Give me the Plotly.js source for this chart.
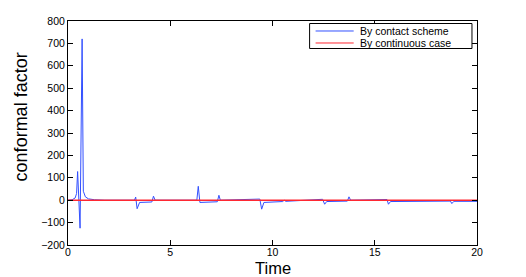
<!DOCTYPE html>
<html>
<head>
<meta charset="utf-8">
<script src="https://cdn.plot.ly/plotly-3.0.1.min.js"></script>
<style>html,body{margin:0;padding:0;background:#fff;}#chart{width:526px;height:277px;}</style>
</head>
<body>
<div id="chart"></div>
<script>
// Time samples for the contact-scheme curve
var timeContact = [0, 0.2, 0.35, 0.42, 0.47, 0.53, 0.59, 0.69, 0.75, 0.85, 1.0, 1.3, 1.8,
  3.25, 3.31, 3.38, 3.5, 4.1, 4.18, 4.26,
  6.3, 6.37, 6.45, 7.3, 7.38, 7.45,
  9.38, 9.47, 9.58, 10.5, 10.57, 10.65,
  12.45, 12.55, 12.65, 13.66, 13.74, 13.82,
  15.6, 15.67, 15.77, 18.7, 18.77, 18.87, 20];
var valuesContact = [0, 2, 10, 30, 128, 20, -125, 720, 40, 15, 6, 2, 0,
  0, 14, -38, -10, -8, 18, 0,
  0, 62, -10, -7, 22, 0,
  5, -40, -10, -6, 0, -5,
  4, -18, -6, -4, 15, 0,
  3, -18, -6, -4, -15, -5, -5];
// Continuous-case curve
var timeContinuous = [0, 5, 10, 15, 20];
var valuesContinuous = [0, 0, 0, 0, 0];
var seriesNames = ['By contact scheme', 'By continuous case'];
var seriesColors = ['rgb(50,80,255)', 'rgb(255,40,50)'];
var xTicks = [0, 5, 10, 15, 20];
var yTicks = [-200, -100, 0, 100, 200, 300, 400, 500, 600, 700, 800];
var xTitle = 'Time';
var yTitle = 'conformal factor';

var FONT = 'Liberation Sans, Arial, Helvetica, sans-serif';
var traces = [
  {x: timeContact, y: valuesContact, type: 'scatter', mode: 'lines', name: seriesNames[0],
   line: {color: seriesColors[0], width: 1}},
  {x: timeContinuous, y: valuesContinuous, type: 'scatter', mode: 'lines', name: seriesNames[1],
   line: {color: seriesColors[1], width: 1.6}}
];
var axisCommon = {
  showgrid: false, zeroline: false, showline: true, linecolor: '#000', linewidth: 1,
  mirror: 'ticks', ticks: 'inside', ticklen: 5, tickcolor: '#000', tickwidth: 1,
  tickfont: {family: FONT, size: 10.5, color: '#000'}
};
// manual compact legend (MATLAB style)
var legBox = {x0: 0.5907, x1: 0.9877, y0: 0.8772, y1: 0.9888};
var legRows = [0.9554, 0.9018];
var shapes = [{type: 'rect', xref: 'paper', yref: 'paper', x0: legBox.x0, x1: legBox.x1, y0: legBox.y0, y1: legBox.y1,
  line: {color: '#000', width: 1}, fillcolor: '#fff', layer: 'above'}];
var annotations = [];
seriesNames.forEach(function(n, i) {
  shapes.push({type: 'line', xref: 'paper', yref: 'paper', x0: 0.6054, x1: 0.6985, y0: legRows[i], y1: legRows[i],
    line: {color: seriesColors[i], width: 1}, layer: 'above'});
  annotations.push({xref: 'paper', yref: 'paper', x: 0.7108, y: legRows[i], xanchor: 'left', yanchor: 'middle',
    text: n, showarrow: false, borderpad: 0, font: {family: FONT, size: 10.5, color: '#000'}});
});
annotations.push({xref: 'paper', yref: 'paper', x: 0.5, y: -0.1049, xanchor: 'center', yanchor: 'middle',
  text: xTitle, showarrow: false, borderpad: 0, font: {family: FONT, size: 16.5, color: '#000'}});
annotations.push({xref: 'paper', yref: 'paper', x: -0.1127, y: 0.5737, xanchor: 'center', yanchor: 'middle',
  text: yTitle, textangle: -90, showarrow: false, borderpad: 0,
  font: {family: FONT, size: 18, color: '#000'}});

var layout = {
  width: 526, height: 277,
  margin: {l: 68, r: 49, t: 21, b: 32},
  paper_bgcolor: '#fff', plot_bgcolor: '#fff',
  showlegend: false,
  shapes: shapes,
  annotations: annotations,
  xaxis: Object.assign({}, axisCommon, {range: [0, 20], tickvals: xTicks, ticktext: xTicks.map(String), ticklabelstandoff: -3}),
  yaxis: Object.assign({}, axisCommon, {range: [-200, 800], tickvals: yTicks,
    ticktext: yTicks.map(function(v){return v < 0 ? '\u2212' + Math.abs(v) : String(v);})})
};
Plotly.newPlot('chart', traces, layout, {displayModeBar: false, staticPlot: true});
</script>
</body>
</html>
